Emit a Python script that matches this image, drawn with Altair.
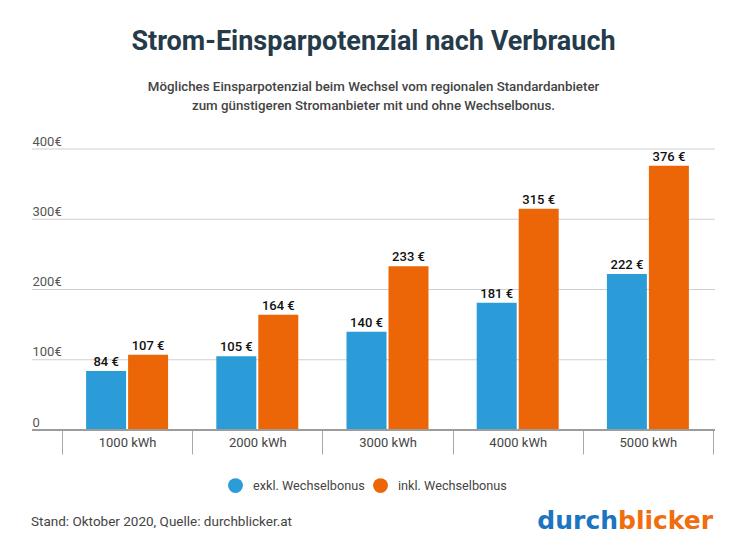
import altair as alt
import pandas as pd

categories = ["1000 kWh", "2000 kWh", "3000 kWh", "4000 kWh", "5000 kWh"]
series = ["exkl. Wechselbonus", "inkl. Wechselbonus"]
exkl_values = [84, 105, 140, 181, 222]
inkl_values = [107, 164, 233, 315, 376]
y_ticks = [0, 100, 200, 300, 400]
colors = ["#2b9cd8", "#ec6608"]

title_text = "Strom-Einsparpotenzial nach Verbrauch"
subtitle_lines = [
    "Mögliches Einsparpotenzial beim Wechsel vom regionalen Standardanbieter",
    "zum günstigeren Stromanbieter mit und ohne Wechselbonus.",
]
footer_text = "Stand: Oktober 2020, Quelle: durchblicker.at"
logo_parts = ["durch", "blicker"]

rows = []
for c, a, b in zip(categories, exkl_values, inkl_values):
    rows.append({"Verbrauch": c, "Serie": series[0], "Wert": a})
    rows.append({"Verbrauch": c, "Serie": series[1], "Wert": b})
df = pd.DataFrame(rows)
df["Label"] = df["Wert"].astype(str) + " €"

W, H = 651, 281
FONT = "Roboto"

y_scale = alt.Scale(domain=[0, 400], nice=False)
x_scale = alt.Scale(domain=categories, paddingInner=0, paddingOuter=0)
xo_scale = alt.Scale(domain=series, paddingInner=0.0476, paddingOuter=0.574)

ticks_df = pd.DataFrame({"v": y_ticks})

grid = alt.Chart(ticks_df[ticks_df["v"] > 0]).mark_rule(color="#cfcfcf", strokeWidth=1).encode(
    y=alt.Y("v:Q", scale=y_scale,
            axis=alt.Axis(values=y_ticks, title=None, domain=False, grid=False,
                          tickSize=0, labelPadding=30, labelAlign="left",
                          labelBaseline="alphabetic", labelOffset=-4,
                          labelFont=FONT, labelFontSize=13, labelColor="#555555",
                          labelExpr="datum.value == 0 ? '0' : datum.value + '€'")),
    x=alt.value(-30),
    x2=alt.value(W + 2),
)

bars = alt.Chart(df).mark_bar().encode(
    x=alt.X("Verbrauch:N", scale=x_scale, sort=categories,
            axis=alt.Axis(title=None, domain=False, grid=False, tickBand="extent",
                          tickSize=24, tickColor="#a8a8a8", labelPadding=-18,
                          labelAngle=0, labelFont=FONT, labelFontSize=13,
                          labelColor="#444444")),
    xOffset=alt.XOffset("Serie:N", scale=xo_scale, sort=series),
    y=alt.Y("Wert:Q", scale=y_scale),
    color=alt.Color("Serie:N", sort=series,
                    scale=alt.Scale(domain=series, range=colors),
                    legend=alt.Legend(title=None, orient="none", direction="horizontal",
                                      legendX=166, legendY=329, symbolType="circle",
                                      symbolSize=220, symbolStrokeWidth=0,
                                      labelFont=FONT, labelFontSize=12.7,
                                      labelColor="#444444", labelOffset=10,
                                      columnPadding=8)),
)

labels = alt.Chart(df).mark_text(baseline="alphabetic", dy=-5, font=FONT, fontSize=13,
                                 fontWeight=500, color="#111111").encode(
    x=alt.X("Verbrauch:N", scale=x_scale, sort=categories),
    xOffset=alt.XOffset("Serie:N", scale=xo_scale, sort=series),
    y=alt.Y("Wert:Q", scale=y_scale),
    text="Label:N",
)

base = alt.Chart(pd.DataFrame({"v": [y_ticks[0]]})).mark_rule(color="#9c9c9c", strokeWidth=2).encode(
    y=alt.Y("v:Q", scale=y_scale),
    x=alt.value(-30),
    x2=alt.value(W + 2),
)

footer = alt.Chart(pd.DataFrame({"t": [footer_text]})).mark_text(
    align="left", baseline="alphabetic", font=FONT, fontSize=13.5, color="#444444").encode(
    x=alt.value(-31), y=alt.value(377), text="t:N")

logo1 = alt.Chart(pd.DataFrame({"t": [logo_parts[0]]})).mark_text(
    align="right", baseline="alphabetic", font="DejaVu Sans", fontWeight="bold",
    fontSize=25, color="#1d74c0").encode(
    x=alt.value(556), y=alt.value(380), text="t:N")

logo2 = alt.Chart(pd.DataFrame({"t": [logo_parts[1]]})).mark_text(
    align="left", baseline="alphabetic", font="DejaVu Sans", fontWeight="bold",
    fontSize=25, color="#f06e0f").encode(
    x=alt.value(556), y=alt.value(380), text="t:N")

chart = alt.layer(grid, bars, labels, base, footer, logo1, logo2).resolve_scale(
    y="shared", x="shared"
).properties(
    width=W, height=H,
    padding={"left": 54, "top": 141, "right": 29, "bottom": 112},
    autosize=alt.AutoSizeParams(type="none"),
    title=alt.TitleParams(
        text=title_text, subtitle=subtitle_lines, anchor="middle", frame="group",
        dx=-14, offset=22, font=FONT, fontSize=27, fontWeight="bold", color="#263b4a",
        subtitleFont=FONT, subtitleFontSize=13.3, subtitleFontWeight=500,
        subtitleColor="#444444", subtitleLineHeight=19, subtitlePadding=24),
).configure_view(stroke=None)

chart.save("out.html", embed_options={"renderer": "svg", "actions": False})
